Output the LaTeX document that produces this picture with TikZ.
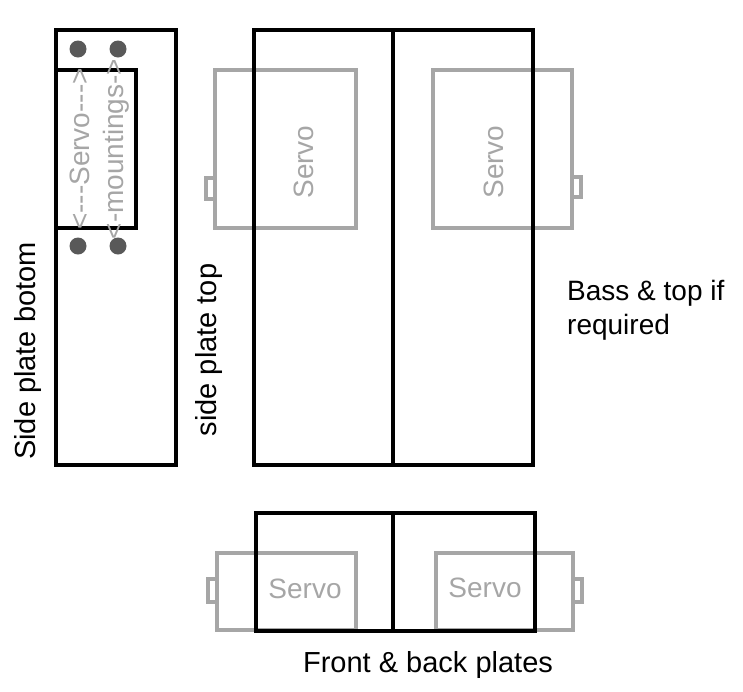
\documentclass[tikz,border=0pt]{standalone}
\usepackage{fontspec}
\setmainfont{Liberation Sans}
\newfontfamily\rawfont{Liberation Sans}
\definecolor{servogrey}{HTML}{A6A6A6}
\definecolor{holegrey}{HTML}{595959}
\tikzset{
  plate/.style={draw=black,line width=4.5pt},
  servobox/.style={draw=servogrey,line width=4.5pt},
  servotext/.style={text=servogrey,font=\fontsize{28}{32}\selectfont\rawfont,inner sep=0pt},
  platetext/.style={text=black,font=\fontsize{29}{34}\selectfont,inner sep=0pt},
  hole/.style={fill=holegrey,draw=none}
}
\begin{document}
\begin{tikzpicture}[x=1pt,y=-1pt]
    \useasboundingbox (0,0) rectangle (743,691); % Same size as the image

    % Servos first, so the plates lie over them
    \draw [servobox] (215,70) rectangle (356,228);
    \draw [servobox] (215,178) -- (206,178) -- (206,199) -- (215,199);
    \draw [servobox] (433,70) rectangle (572,228);
    \draw [servobox] (572,177) -- (581,177) -- (581,197) -- (572,197);
    \draw [servobox] (217,553) rectangle (356,630);
    \draw [servobox] (217,579) -- (208,579) -- (208,602) -- (217,602);
    \draw [servobox] (436,553) rectangle (573,630);
    \draw [servobox] (573,579) -- (582,579) -- (582,602) -- (573,602);

    \draw [plate] (56,30) rectangle (176,465);
    \draw [plate] (56,70) rectangle (136,228);
    \draw [plate] (254,30) rectangle (533,465);
    \draw [plate] (393,30) -- (393,465);
    \draw [plate] (256,513) rectangle (535,631);
    \draw [plate] (393,513) -- (393,631);

    \fill [hole] (78,49) circle (8.5);
    \fill [hole] (118,49) circle (8.5);
    \fill [hole] (78,246) circle (8.5);
    \fill [hole] (118,246) circle (8.5);

    \node [servotext,rotate=90] (servoleft) at (304,162) {Servo};
    \node [servotext,rotate=90] (servoright) at (494,162) {Servo};
    \node [servotext] (servofrontleft) at (305,589) {Servo};
    \node [servotext] (servofrontright) at (485,588) {Servo};
    \node [servotext,rotate=90] (servomount) at (80,149) {<---Servo--->};
    \node [servotext,rotate=90] (mountings) at (116,149) {<-mountings->};

    \node [platetext,rotate=90] (sidebottom) at (28,351) {Side plate botom};
    \node [platetext,rotate=90] (sidetop) at (209,350) {side plate top};
    \node [platetext,anchor=north west,align=left,font=\fontsize{28}{34}\selectfont] (basstop) at (567,280) {Bass \& top if\\required};
    \node [platetext] (frontback) at (428,665) {Front \& back plates};
\end{tikzpicture}
\end{document}
